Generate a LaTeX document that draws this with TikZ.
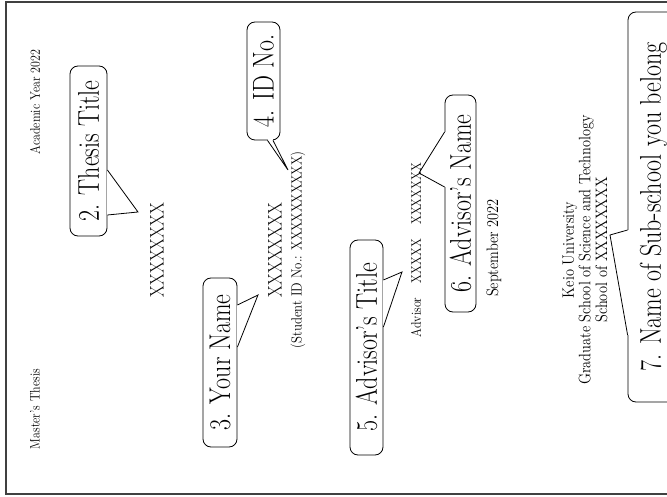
\documentclass[tikz,border=0pt]{standalone}
\usepackage{fontspec}
\usepackage{graphicx}
\usetikzlibrary{calc}
\definecolor{framegray}{gray}{0.25}
\newcommand{\tallcap}[1]{\scalebox{1}[1.25]{#1}}

\begin{document}
\begin{tikzpicture}[x=1pt, y=-1pt,
    cover/.style={rotate=90, yscale=1.15, inner sep=0pt},
    bubble/.style={draw, rounded corners=8pt, rotate=90, line width=0.8pt,
      inner sep=0pt, font=\fontsize{24}{28}\selectfont},
    tail/.style={line width=0.8pt},
    gap/.style={white, line width=1.8pt}]
  \useasboundingbox (0,0) rectangle (667,497);
  \draw[framegray, line width=1.5pt] (6,2) rectangle (720,494);

  % the cover page itself
  \node[cover, font=\fontsize{12}{14}\selectfont] (year) at (35,102) {Academic Year 2022};
  \node[cover, font=\fontsize{12}{14}\selectfont] (kind) at (35,409) {Master's Thesis};
  \node[cover, font=\fontsize{17}{20}\selectfont] (title) at (157,250) {XXXXXXXX};
  \node[cover, font=\fontsize{17}{20}\selectfont] (name) at (275,250) {XXXXXXXX};
  \node[cover, font=\fontsize{12.8}{15}\selectfont] (sid) at (298,250) {(Student ID No.: XXXXXXXXXX)};
  \node[cover, font=\fontsize{12}{14}\selectfont] (adv) at (416,250)
    {Advisor\hspace{1.2em}XXXXX\hspace{1.2em}XXXXXXX};
  \node[cover, font=\fontsize{14.4}{16}\selectfont] (date) at (494,248) {September 2022};
  \node[cover, align=center, font=\fontsize{14.4}{14.5}\selectfont] (univ) at (585,250)
    {Keio University\\Graduate School of Science and Technology\\School of XXXXXXXX};

  % callouts
  \node[bubble, minimum width=170pt, minimum height=37pt] (c2) at (88.5,151) {\tallcap{2. Thesis Title}};
  \node[bubble, minimum width=169pt, minimum height=34pt] (c3) at (220,362.5) {\tallcap{3. Your Name}};
  \node[bubble, minimum width=118pt, minimum height=33pt] (c4) at (263.5,81) {\tallcap{4. ID No.}};
  \node[bubble, minimum width=215pt, minimum height=33pt] (c5) at (366.5,347.5) {\tallcap{5. Advisor's Title}};
  \node[bubble, minimum width=217pt, minimum height=31pt] (c6) at (460.5,203.5) {\tallcap{6. Advisor's Name}};
  \node[bubble, minimum width=390pt, minimum height=51pt] (c7) at (653.5,207) {\tallcap{7. Name of Sub-school you belong}};

  \coordinate (t2) at (138,212);
  \coordinate (t3) at (258,295);
  \coordinate (t4) at (288,170);
  \coordinate (t5) at (402,272);
  \coordinate (t6) at (419,173);
  \coordinate (t7) at (610,235);

  \coordinate (p2a) at ($(c2.south)+(0,19)$);
  \coordinate (p2b) at ($(c2.south)+(0,64)$);
  \coordinate (p3a) at ($(c3.south)+(0,-57.5)$);
  \coordinate (p3b) at ($(c3.south)+(0,-15.5)$);
  \coordinate (p4a) at ($(c4.west)+(4,0)$);
  \coordinate (p4b) at ($(c4.west)+(9.5,0)$);
  \coordinate (p5a) at ($(c5.south)+(0,-67.5)$);
  \coordinate (p5b) at ($(c5.south)+(0,-20.5)$);
  \coordinate (p6a) at ($(c6.north)+(0,-71.5)$);
  \coordinate (p6b) at ($(c6.north)+(0,-16.5)$);
  \coordinate (p7a) at ($(c7.north)+(0,23)$);
  \coordinate (p7b) at ($(c7.north)+(0,128)$);

  \draw[gap] (p2a) -- (p2b);
  \draw[tail] (p2a) -- (t2) -- (p2b);
  \draw[gap] (p3a) -- (p3b);
  \draw[tail] (p3a) -- (t3) -- (p3b);
  \draw[gap] (p4a) -- (p4b);
  \draw[tail] (p4a) -- (t4) -- (p4b);
  \draw[gap] (p5a) -- (p5b);
  \draw[tail] (p5a) -- (t5) -- (p5b);
  \draw[gap] (p6a) -- (p6b);
  \draw[tail] (p6a) -- (t6) -- (p6b);
  \draw[gap] (p7a) -- (p7b);
  \draw[tail] (p7a) -- (t7) -- (p7b);
\end{tikzpicture}
\end{document}
